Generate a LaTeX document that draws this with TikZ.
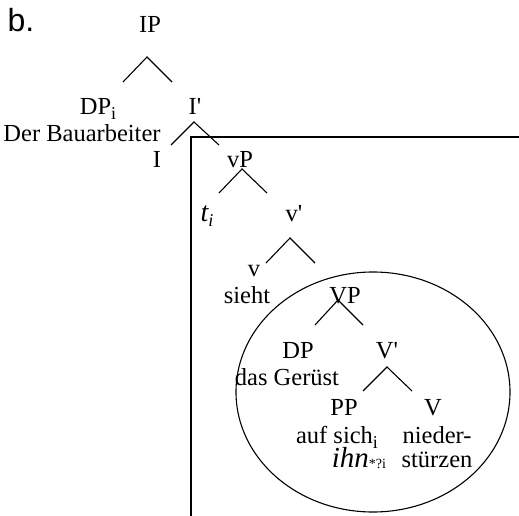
\documentclass[tikz,border=0pt]{standalone}
\usepackage{fontspec}
\setmainfont{Liberation Serif}
\newfontfamily\exfont{Liberation Sans}
\newcommand{\lowsub}[1]{\raisebox{-5pt}{\fontsize{18}{18}\selectfont #1}}
\newcommand{\tinysub}[1]{\raisebox{-1pt}{\fontsize{14}{14}\selectfont #1}}
\newcommand{\barlevel}{\textquotesingle}

\begin{document}
\begin{tikzpicture}[x=1pt,y=-1pt,line width=1.1pt,
  cat node/.style={anchor=base,inner sep=0pt,font=\fontsize{24.5}{26}\selectfont},
  word node/.style={cat node},
  big italic/.style={font=\fontsize{28}{30}\selectfont\itshape},
  branch/.style={line cap=butt}]
\useasboundingbox (0,0) rectangle (519,516);
  \node[anchor=base west,inner sep=0pt,font=\exfont\fontsize{32}{34}\selectfont] (ex) at (7,32) {b.};

  \node[cat node] (IP) at (150,33) {IP};
  \node[cat node] (DPi) at (98,115) {DP\lowsub{i}};
  \node[cat node] (I1) at (195,115) {I\barlevel};
  \node[word node] (bauarbeiter) at (82,142) {Der Bauarbeiter};
  \node[cat node] (I) at (157,167) {I};
  \node[cat node] (vP) at (240,167) {vP};
  \node[cat node,big italic] (trace) at (207,221) {t\lowsub{i}};
  \node[cat node] (v1) at (294,221) {v\barlevel};
  \node[cat node] (v) at (254,276) {v};
  \node[word node] (sieht) at (247,303) {sieht};
  \node[cat node] (VP) at (345,303) {VP};
  \node[cat node] (DP) at (298,358) {DP};
  \node[cat node] (V1) at (387,358) {V\barlevel};
  \node[word node] (geruest) at (287,385) {das Gerüst};
  \node[cat node] (PP) at (344,415) {PP};
  \node[cat node] (V) at (433,415) {V};
  \node[word node] (aufsich) at (337,443) {auf sich\lowsub{i}};
  \node[word node] (nieder) at (437,443) {nieder-};
  \node[word node] (ihn) at (359,467) {{\fontsize{29}{31}\selectfont\itshape ihn}\tinysub{*?i}};
  \node[word node] (stuerzen) at (437,467) {stürzen};

  % branch points
  \coordinate (IP-top) at (147,57);  \coordinate (IP-l) at (123,82);  \coordinate (IP-r) at (172,82);
  \coordinate (I1-top) at (194,122); \coordinate (I1-l) at (171,145); \coordinate (I1-r) at (219,145);
  \coordinate (vP-top) at (242,169); \coordinate (vP-l) at (219,193); \coordinate (vP-r) at (267,193);
  \coordinate (v1-top) at (290,238); \coordinate (v1-l) at (266,263); \coordinate (v1-r) at (315,263);
  \coordinate (VP-top) at (338,300); \coordinate (VP-l) at (315,325); \coordinate (VP-r) at (363,325);
  \coordinate (V1-top) at (387,367); \coordinate (V1-l) at (363,391); \coordinate (V1-r) at (412,391);

  \draw[branch] (IP-l) -- (IP-top) -- (IP-r);
  \draw[branch] (I1-l) -- (I1-top) -- (I1-r);
  \draw[branch] (vP-l) -- (vP-top) -- (vP-r);
  \draw[branch] (v1-l) -- (v1-top) -- (v1-r);
  \draw[branch] (VP-l) -- (VP-top) -- (VP-r);
  \draw[branch] (V1-l) -- (V1-top) -- (V1-r);

  % vP domain and VP domain
  \coordinate (box-bottom) at (191,516);
  \coordinate (box-corner) at (191,137);
  \coordinate (box-right) at (519,137);
  \draw (box-bottom) -- (box-corner) -- (box-right);
  \coordinate (VP-area) at (373,392);
  \draw (VP-area) ellipse [x radius=137, y radius=120];
\end{tikzpicture}
\end{document}
